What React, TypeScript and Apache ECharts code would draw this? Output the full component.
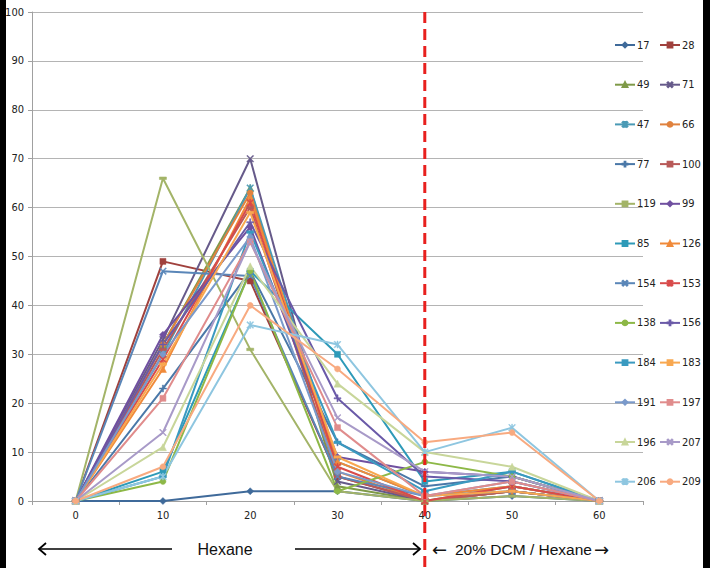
import React, { useEffect, useRef } from "react";
import * as echarts from "echarts";

const categories = ["0", "10", "20", "30", "40", "50", "60"];
const yTicks = [0, 10, 20, 30, 40, 50, 60, 70, 80, 90, 100];

const names = ["17", "28", "49", "71", "47", "66", "77", "100", "119", "99", "85", "126",
  "154", "153", "138", "156", "184", "183", "191", "197", "196", "207", "206", "209"];

const s17 = [0, 0, 2, 2, 0, 1, 0];
const s28 = [0, 49, 45, 5, 0, 2, 0];
const s49 = [0, 32, 64, 3, 0, 3, 0];
const s71 = [0, 33, 70, 4, 0, 2, 0];
const s47 = [0, 30, 64, 8, 1, 3, 0];
const s66 = [0, 32, 63, 6, 0, 2, 0];
const s77 = [0, 23, 47, 12, 3, 5, 0];
const s100 = [0, 31, 60, 5, 0, 2, 0];
const s119 = [0, 66, 31, 2, 0, 1, 0];
const s99 = [0, 34, 56, 9, 6, 5, 0];
const s85 = [0, 6, 47, 30, 4, 6, 0];
const s126 = [0, 27, 62, 8, 1, 3, 0];
const s154 = [0, 47, 46, 5, 1, 2, 0];
const s153 = [0, 29, 61, 7, 0, 3, 0];
const s138 = [0, 4, 47, 2, 8, 5, 0];
const s156 = [0, 32, 57, 21, 5, 4, 0];
const s184 = [0, 5, 55, 12, 2, 6, 0];
const s183 = [0, 28, 59, 9, 1, 2, 0];
const s191 = [0, 30, 54, 6, 1, 4, 0];
const s197 = [0, 21, 53, 15, 1, 4, 0];
const s196 = [0, 11, 48, 24, 10, 7, 0];
const s207 = [0, 14, 53, 17, 6, 5, 0];
const s206 = [0, 5, 36, 32, 10, 15, 0];
const s209 = [0, 7, 40, 27, 12, 14, 0];

const values = [s17, s28, s49, s71, s47, s66, s77, s100, s119, s99, s85, s126,
  s154, s153, s138, s156, s184, s183, s191, s197, s196, s207, s206, s209];

const colors = ["#3F6A9A", "#A0413D", "#7F9A48", "#665A8A", "#4A9AB5", "#E0823E",
  "#4A78A8", "#B85A58", "#A3B468", "#7050A0", "#2E9AB8", "#F08A3A",
  "#5A86B8", "#D84B4B", "#8DB847", "#6A5AA8", "#3A9AC0", "#F8A850",
  "#7A9ACB", "#E08C8C", "#C8D69A", "#A89AC8", "#8EC6E0", "#F8AA80"];

const X_PATH = "path://M0,1L1,0L5,4L9,0L10,1L6,5L10,9L9,10L5,6L1,10L0,9L4,5Z";
const PLUS_PATH = "path://M4.2,0H5.8V4.2H10V5.8H5.8V10H4.2V5.8H0V4.2H4.2Z";
const STAR_PATH = "path://M0,1L1,0L5,4L9,0L10,1L6,5L10,9L9,10L5,6L1,10L0,9L4,5Z M4.3,0H5.7V10H4.3Z";

const symbolCycle: any[] = ["diamond", "rect", "triangle", X_PATH, STAR_PATH, "circle", PLUS_PATH, "rect", "rect"];
const sizeCycle: any[] = [7, 6, 7, 7, 7, 6, 7, [7, 2.5], [7, 2.5]];

const col1 = names.filter((_, i) => i % 2 === 0);
const col2 = names.filter((_, i) => i % 2 === 1);

const FONT = "'Liberation Sans Narrow', 'DejaVu Sans Condensed', 'Liberation Sans', sans-serif";
const FONT2 = "'Liberation Sans', Arial, sans-serif";

export default function App() {
  const ref = useRef<HTMLDivElement>(null);
  useEffect(() => {
    document.body.style.margin = "0";
    const chart = echarts.init(ref.current!, undefined, { renderer: "svg" });
    const series = names.map((n, i) => {
      const k = i % 9;
      return {
        name: n,
        type: "line",
        data: values[i],
        symbol: symbolCycle[k],
        symbolSize: sizeCycle[k],
        showSymbol: true,
        lineStyle: { width: 2, color: colors[i] },
        itemStyle: { color: colors[i], borderColor: colors[i], borderWidth: 0.5 },
        emphasis: { disabled: true },
      };
    });
    const legendBase = {
      orient: "vertical",
      itemWidth: 20,
      itemHeight: 6,
      itemGap: 25.7,
      padding: 0,
      textStyle: { fontFamily: FONT, fontSize: 11, lineHeight: 14, color: "#222", padding: [0, 0, 0, -3] },
      selectedMode: false,
    };
    chart.setOption({
      animation: false,
      color: colors,
      grid: { left: 32, right: 67, top: 12, bottom: 67 },
      xAxis: {
        type: "category",
        data: categories,
        boundaryGap: true,
        axisLine: { lineStyle: { color: "#A0A0A0" } },
        axisTick: { show: true, lineStyle: { color: "#A0A0A0" }, length: 4 },
        axisLabel: { fontFamily: FONT, fontSize: 11, color: "#222", margin: 9 },
      },
      yAxis: {
        type: "value",
        min: 0,
        max: 100,
        interval: 10,
        axisLine: { show: true, lineStyle: { color: "#A0A0A0" } },
        axisTick: { show: true, lineStyle: { color: "#A0A0A0" }, length: 4 },
        axisLabel: { fontFamily: FONT, fontSize: 11, color: "#222", margin: 8 },
        splitLine: { lineStyle: { color: "#B4B4B4", width: 1 } },
      },
      legend: [
        { ...legendBase, data: col1, left: 614, top: 38 },
        { ...legendBase, data: col2, left: 659, top: 38 },
      ],
      series,
    });
    const x40 = chart.convertToPixel({ xAxisIndex: 0 }, categories.indexOf("40")) as number;
    const yArrow = 549;
    chart.setOption({
      graphic: [
        { type: "rect", shape: { x: 0, y: 0, width: 6, height: 568 }, style: { fill: "#000" }, z: 100 },
        { type: "rect", shape: { x: 703, y: 0, width: 7, height: 568 }, style: { fill: "#000" }, z: 100 },
        {
          type: "line",
          shape: { x1: x40, y1: 12, x2: x40, y2: 568 },
          style: { stroke: "#E8201E", lineWidth: 3, lineDash: [11, 6] },
          z: 50,
        },
        { type: "line", shape: { x1: 39, y1: yArrow, x2: 172, y2: yArrow }, style: { stroke: "#000", lineWidth: 1.5 } },
        {
          type: "polyline",
          shape: { points: [[46, yArrow - 6], [39, yArrow], [46, yArrow + 6]] },
          style: { stroke: "#000", lineWidth: 1.8, fill: "none" },
        },
        { type: "line", shape: { x1: 295, y1: yArrow, x2: 420, y2: yArrow }, style: { stroke: "#000", lineWidth: 1.5 } },
        {
          type: "polyline",
          shape: { points: [[413, yArrow - 6], [420, yArrow], [413, yArrow + 6]] },
          style: { stroke: "#000", lineWidth: 1.8, fill: "none" },
        },
        {
          type: "text",
          x: 225,
          y: yArrow,
          style: { text: "Hexane", fontFamily: FONT2, fontSize: 16, fill: "#111", align: "center", verticalAlign: "middle" },
        },
        {
          type: "text",
          x: 432,
          y: yArrow,
          style: { text: "←", fontFamily: "'DejaVu Sans', sans-serif", fontSize: 18, fill: "#111", align: "left", verticalAlign: "middle" },
        },
        {
          type: "text",
          x: 455,
          y: yArrow,
          style: { text: "20% DCM / Hexane", fontFamily: FONT2, fontSize: 15.5, fill: "#111", align: "left", verticalAlign: "middle" },
        },
        {
          type: "text",
          x: 594,
          y: yArrow,
          style: { text: "→", fontFamily: "'DejaVu Sans', sans-serif", fontSize: 18, fill: "#111", align: "left", verticalAlign: "middle" },
        },
      ],
    });
    return () => chart.dispose();
  }, []);
  return <div ref={ref} style={{ width: 710, height: 568, position: "absolute", left: 0, top: 0, background: "#fff" }} />;
}
